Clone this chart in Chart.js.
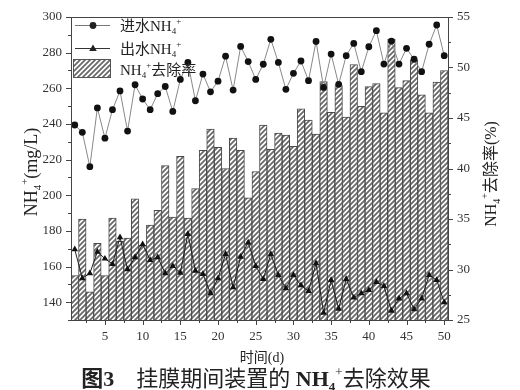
<!DOCTYPE html>
<html>
<head>
<meta charset="utf-8">
<script src="https://cdn.jsdelivr.net/npm/chart.js@4"></script>
<style>
html,body{margin:0;padding:0;background:#fff;}
#wrap{position:relative;width:520px;height:390px;}
</style>
</head>
<body>
<div id="wrap"><canvas id="c" width="520" height="390"></canvas></div>
<script>
// ---- data ----
const days = [1,2,3,4,5,6,7,8,9,10,11,12,13,14,15,16,17,18,19,20,21,22,23,24,25,26,27,28,29,30,31,32,33,34,35,36,37,38,39,40,41,42,43,44,45,46,47,48,49,50];
const influent = [239.4,235.3,216,249,232,248,258.5,236,262,254,248,257,261,247,265,274.5,253,268,258,264,278,259,283.5,275,265,273.5,287.5,274.5,259.4,268.4,275.3,264.3,286.3,260.5,279.2,262.2,278.3,285.2,269.3,283.3,292.3,273.6,286.5,273.6,282.4,276.3,269.3,284.7,295.5,278.3];
const effluent = [169.6,153.4,156.2,168.3,164.4,161.4,176.4,158.4,165.2,172.5,163.6,165.2,156.2,160.3,156.5,178.2,157.6,155.8,145,153.4,167,148.3,165.5,173.4,160.3,153,167,155.2,147.8,155.2,149.4,146.2,161.8,134,152.4,136.3,153,142.5,145,146.8,151.3,149,135.2,142,145,136,142,155.2,152.4,139.9];
const removal = [29.4,35.0,27.8,32.6,29.4,35.1,32.8,33.1,37.0,32.4,34.4,35.85,40.3,35.2,41.2,35.1,38.0,41.8,43.9,42.1,40.0,43.0,41.8,37.1,39.7,44.3,41.9,43.5,43.3,42.2,45.9,44.8,43.4,48.6,45.55,48.2,45.1,50.3,46.15,48.1,48.4,45.5,52.8,48.0,48.7,50.7,47.3,45.5,48.55,49.7];
const leftTicks = [140,160,180,200,220,240,260,280,300];
const rightTicks = [25,30,35,40,45,50,55];
const xTickDays = [5,10,15,20,25,30,35,40,45,50];

const SERIF = "'Liberation Serif','Noto Sans CJK SC'";
const AXIS = '#444';

function hatch(){
  const n = 5;
  const t = document.createElement('canvas');
  t.width = n; t.height = n;
  const g = t.getContext('2d');
  g.fillStyle = '#fff'; g.fillRect(0,0,n,n);
  g.strokeStyle = '#6a6a6a'; g.lineWidth = 1.8;
  g.beginPath();
  g.moveTo(0,n); g.lineTo(n,0);
  g.moveTo(-n,n); g.lineTo(n,-n);
  g.moveTo(0,2*n); g.lineTo(2*n,0);
  g.stroke();
  return g.createPattern(t,'repeat');
}
const pat = hatch();

// rich text: segments {t, s(size), b(bold), sh:'sub'|'sup'}
function richWidth(ctx, segs){
  let w = 0;
  for (const s of segs){ ctx.font = (s.b?'bold ':'') + s.s + 'px ' + SERIF; w += ctx.measureText(s.t).width; }
  return w;
}
function drawRich(ctx, x, y, segs, align){
  const w = richWidth(ctx, segs);
  let cx = align === 'center' ? x - w/2 : x;
  ctx.textBaseline = 'alphabetic';
  ctx.textAlign = 'left';
  for (const s of segs){
    ctx.font = (s.b?'bold ':'') + s.s + 'px ' + SERIF;
    let dy = 0;
    if (s.sh === 'sub') dy = s.s*0.35;
    if (s.sh === 'sup') dy = -s.s*0.8;
    ctx.fillText(s.t, cx, y + dy);
    cx += ctx.measureText(s.t).width;
  }
}
function nh4(size, bold){
  return [{t:'NH', s:size, b:bold},{t:'4', s:Math.round(size*0.6), sh:'sub', b:bold},{t:'+', s:Math.round(size*0.6), sh:'sup'}];
}

const decor = {
  id:'decor',
  afterDraw(chart){
    const ctx = chart.ctx;
    const a = chart.chartArea;
    const xs = chart.scales.x, yl = chart.scales.y, yr = chart.scales.y1;
    ctx.save();
    ctx.strokeStyle = AXIS; ctx.lineWidth = 1;
    ctx.strokeRect(Math.round(a.left)+0.5, Math.round(a.top)+0.5, Math.round(a.right-a.left), Math.round(a.bottom-a.top));
    ctx.beginPath();
    for (let v=130; v<=300; v+=10){
      const p = Math.round(yl.getPixelForValue(v))+0.5;
      const L = (v%20===0)?5:3;
      ctx.moveTo(a.left, p); ctx.lineTo(a.left-L, p);
    }
    for (let v=25; v<=55; v+=2.5){
      const p = Math.round(yr.getPixelForValue(v))+0.5;
      const L = (v%5===0)?5:3;
      ctx.moveTo(a.right, p); ctx.lineTo(a.right+L, p);
    }
    for (let d=2.5; d<=50; d+=2.5){
      const p = Math.round(xs.getPixelForValue(d-1))+0.5;
      const L = (d%5===0)?5:3;
      ctx.moveTo(p, a.bottom); ctx.lineTo(p, a.bottom+L);
    }
    ctx.stroke();

    ctx.fillStyle = '#222';
    // legend
    const lx0 = 75, lx1 = 110, lc = 93, tx = 120;
    ctx.strokeStyle = '#777'; ctx.lineWidth = 1;
    ctx.beginPath(); ctx.moveTo(lx0, 25.5); ctx.lineTo(lx1, 25.5); ctx.stroke();
    ctx.beginPath(); ctx.arc(lc, 25.5, 3.4, 0, Math.PI*2); ctx.fill();
    ctx.strokeStyle = '#333';
    ctx.beginPath(); ctx.moveTo(lx0, 48.5); ctx.lineTo(lx1, 48.5); ctx.stroke();
    ctx.beginPath(); ctx.moveTo(lc, 44.5); ctx.lineTo(lc+3.8, 51); ctx.lineTo(lc-3.8, 51); ctx.closePath(); ctx.fill();
    ctx.fillStyle = pat; ctx.fillRect(73, 59, 37, 18);
    ctx.strokeStyle = '#555'; ctx.strokeRect(73.5, 59.5, 37, 18);
    ctx.fillStyle = '#222';
    drawRich(ctx, tx, 31, [{t:'进水', s:15}].concat(nh4(15)), 'left');
    drawRich(ctx, tx, 54, [{t:'出水', s:15}].concat(nh4(15)), 'left');
    drawRich(ctx, tx, 75, nh4(15).concat([{t:'去除率', s:15}]), 'left');

    // axis titles
    ctx.save();
    ctx.translate(37, 172); ctx.rotate(-Math.PI/2);
    drawRich(ctx, 0, 0, nh4(18).concat([{t:'(mg/L)', s:18}]), 'center');
    ctx.restore();
    ctx.save();
    ctx.translate(496, 174); ctx.rotate(-Math.PI/2);
    drawRich(ctx, 0, 0, nh4(16).concat([{t:'去除率(%)', s:16}]), 'center');
    ctx.restore();
    drawRich(ctx, 262, 362, [{t:'时间(d)', s:14}], 'center');
    drawRich(ctx, 256, 386, [{t:'图3', s:22, b:true},{t:'    挂膜期间装置的 ', s:22},{t:'NH', s:22, b:true},{t:'4', s:13, b:true, sh:'sub'},{t:'+', s:13, sh:'sup'},{t:'去除效果', s:22}], 'center');
    ctx.restore();
  }
};

new Chart(document.getElementById('c'), {
  type:'bar',
  data:{
    labels: days,
    datasets:[
      {type:'line', label:'进水NH4+', data: influent, yAxisID:'y', borderColor:'#888', borderWidth:1, pointRadius:3.4, pointBackgroundColor:'#111', pointBorderColor:'#111', pointBorderWidth:0, tension:0, order:1},
      {type:'line', label:'出水NH4+', data: effluent, yAxisID:'y', borderColor:'#222', borderWidth:1, pointStyle:'triangle', pointRadius:3.8, pointBackgroundColor:'#111', pointBorderColor:'#111', pointBorderWidth:0, tension:0, order:2},
      {type:'bar', label:'NH4+去除率', data: removal, yAxisID:'y1', backgroundColor: pat, borderColor:'#4a4a4a', borderWidth:1, barPercentage:1, categoryPercentage:1, order:3}
    ]
  },
  options:{
    responsive:false, animation:false, devicePixelRatio:1,
    layout:{padding:{top:17, left:0, right:0, bottom:0}},
    plugins:{legend:{display:false}, tooltip:{enabled:false}},
    scales:{
      x:{
        grid:{display:false, drawTicks:false}, border:{display:false},
        ticks:{autoSkip:false, maxRotation:0, padding:9, color:'#333', font:{family:SERIF, size:13},
          callback:(v,i)=> xTickDays.includes(days[i]) ? String(days[i]) : ''},
        afterFit(s){ s.height = 70; }
      },
      y:{
        position:'left', min:130, max:300,
        grid:{display:false, drawTicks:false}, border:{display:false},
        ticks:{padding:9, color:'#333', font:{family:SERIF, size:13}},
        afterBuildTicks(s){ s.ticks = leftTicks.map(v=>({value:v})); },
        afterFit(s){ s.width = 71; }
      },
      y1:{
        position:'right', min:25, max:55,
        grid:{display:false, drawTicks:false}, border:{display:false},
        ticks:{padding:9, color:'#333', font:{family:SERIF, size:13}},
        afterBuildTicks(s){ s.ticks = rightTicks.map(v=>({value:v})); },
        afterFit(s){ s.width = 72; }
      }
    }
  },
  plugins:[decor]
});
</script>
</body>
</html>
